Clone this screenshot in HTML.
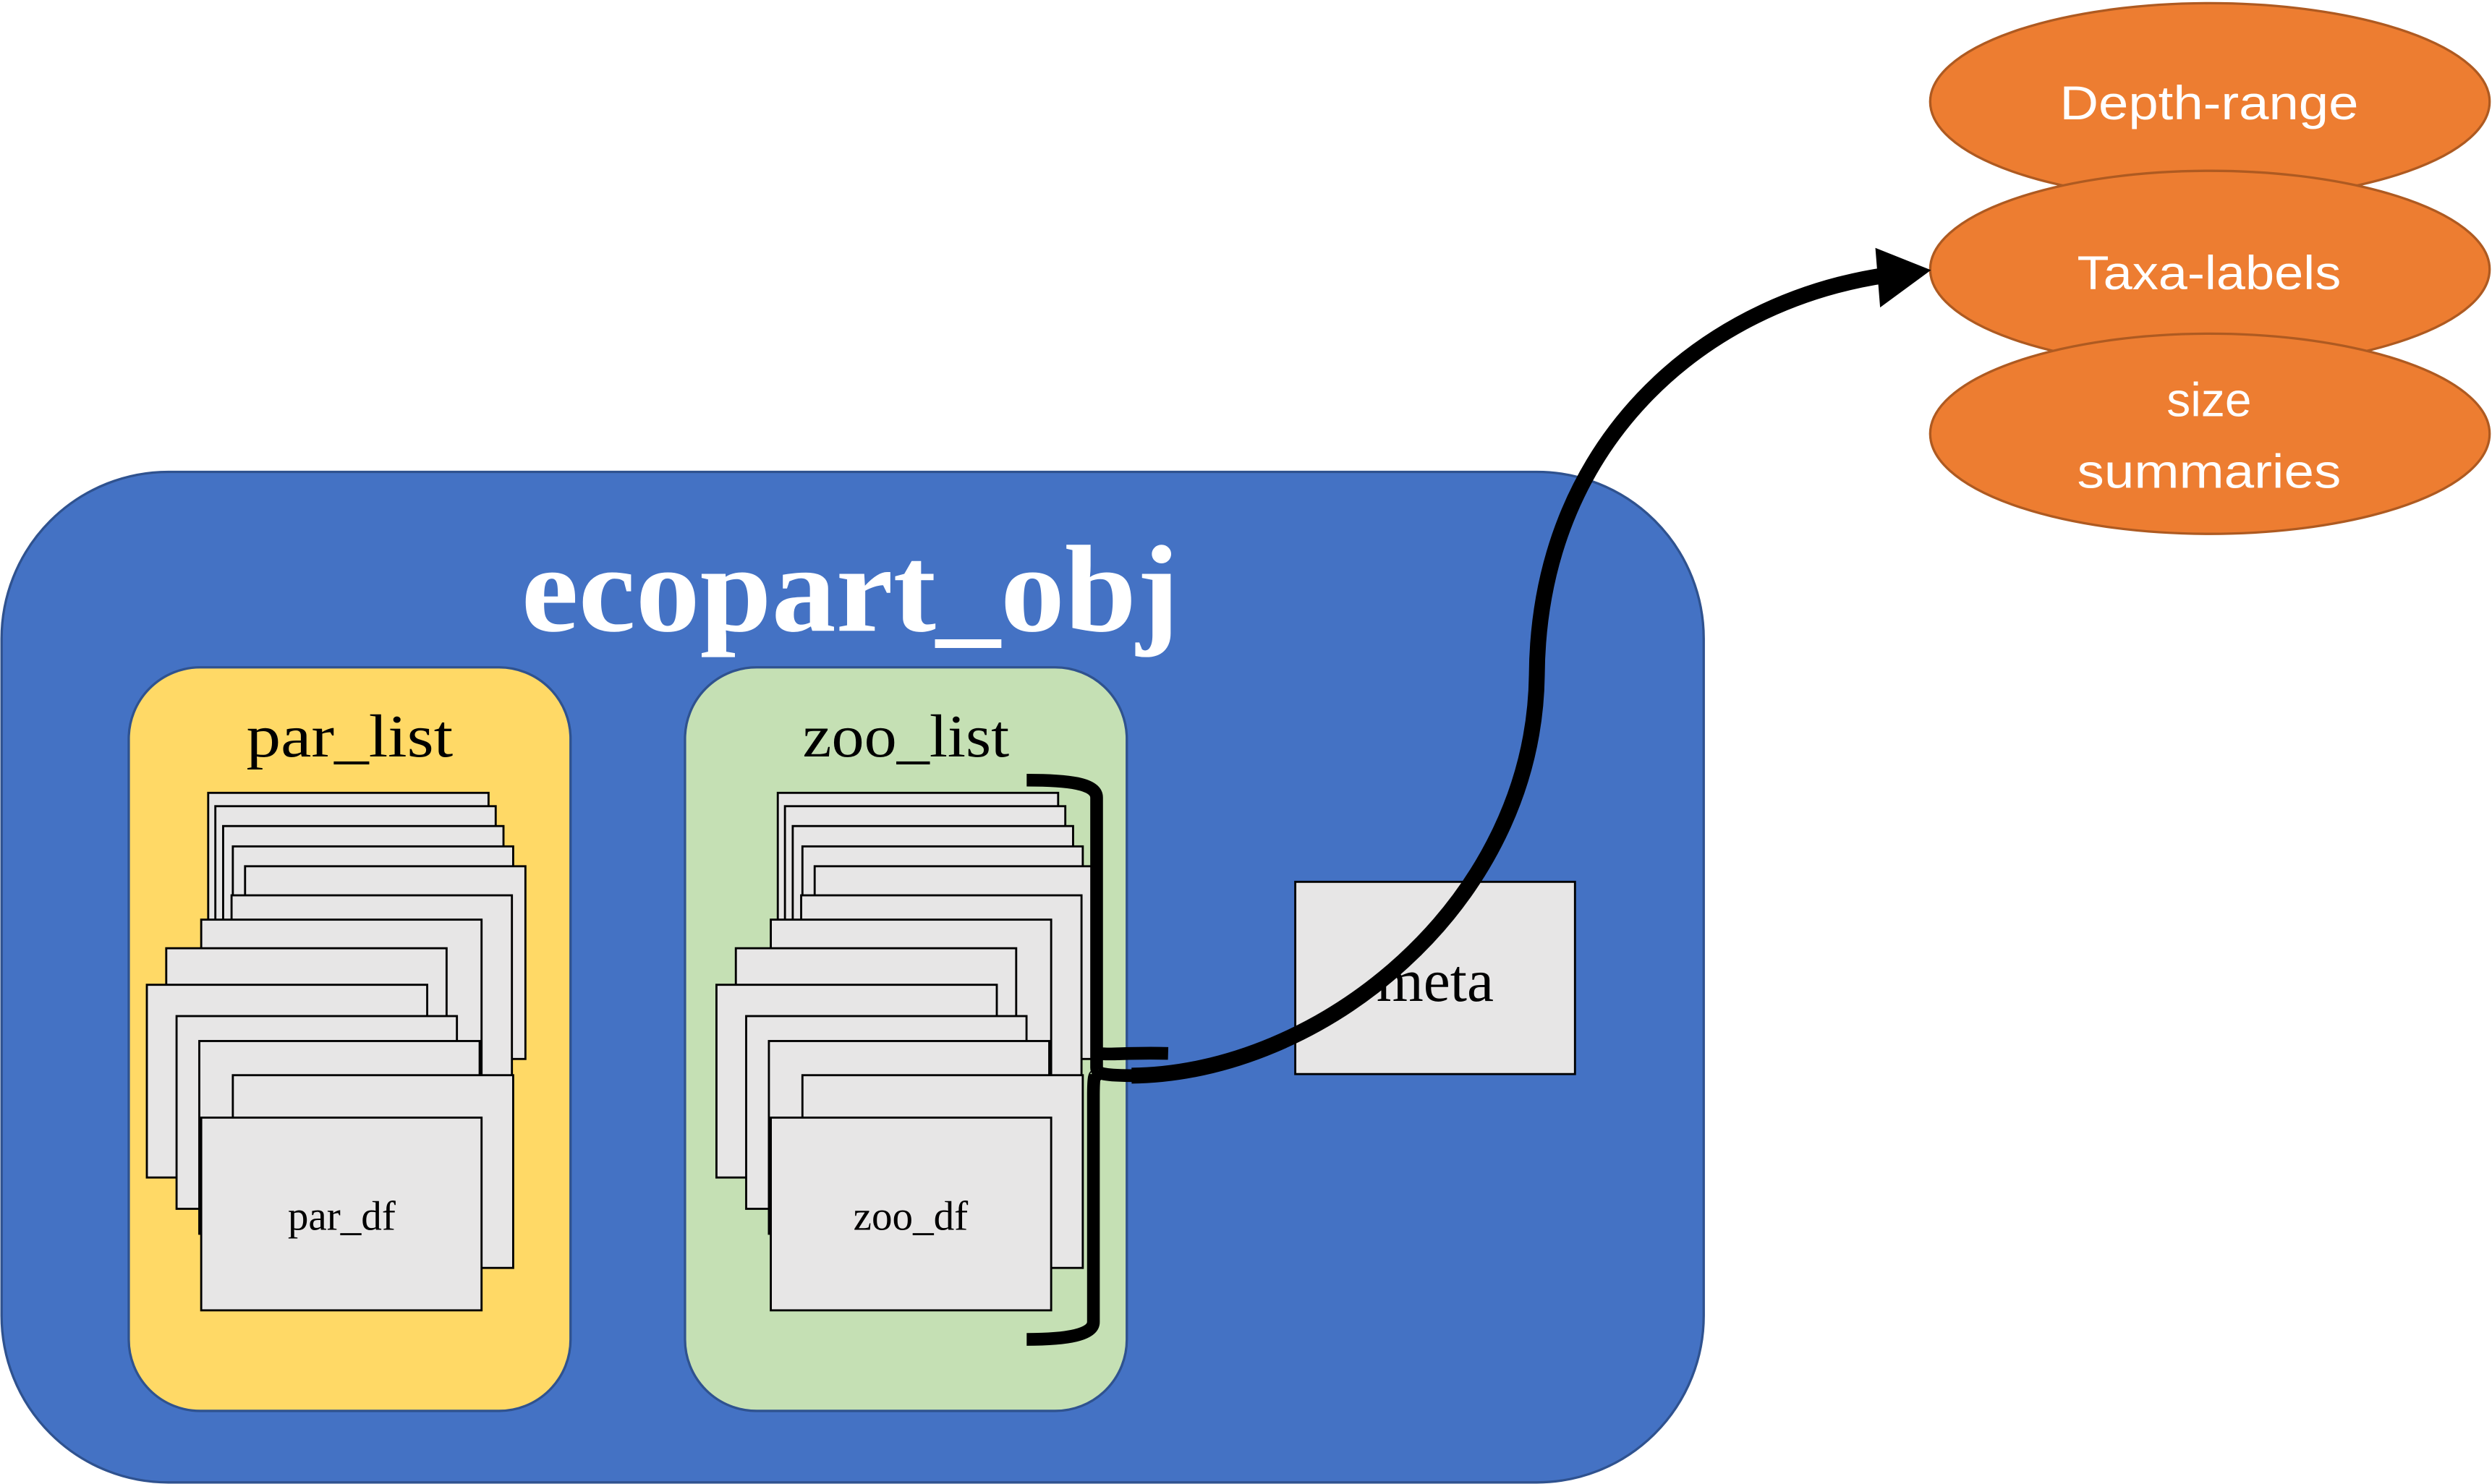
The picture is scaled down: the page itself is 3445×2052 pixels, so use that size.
<!DOCTYPE html>
<html><head><meta charset="utf-8"><style>html,body{margin:0;padding:0;background:#fff}svg{display:block}</style></head>
<body>
<svg width="3445" height="2052" viewBox="0 0 1568 934" preserveAspectRatio="none" xmlns="http://www.w3.org/2000/svg">
<rect x="0" y="0" width="1568" height="934" fill="#fff"/>
<!-- ellipses -->
<g fill="#ed7d31" stroke="#ae5a21" stroke-width="1.5" font-family="Liberation Sans, sans-serif" font-size="30" fill-opacity="1">
<ellipse cx="1390.5" cy="64" rx="176" ry="62"/>
<ellipse cx="1390.5" cy="169.5" rx="176" ry="62"/>
<ellipse cx="1390.5" cy="273" rx="176" ry="63"/>
</g>
<g fill="#fff" font-family="Liberation Sans, sans-serif" font-size="30" text-anchor="middle">
<text x="1390" y="75" textLength="188" lengthAdjust="spacingAndGlyphs">Depth-range</text>
<text x="1390" y="182" textLength="166" lengthAdjust="spacingAndGlyphs">Taxa-labels</text>
<text x="1390" y="262">size</text>
<text x="1390" y="307" textLength="166" lengthAdjust="spacingAndGlyphs">summaries</text>
</g>
<!-- main container -->
<rect x="1" y="297" width="1071" height="636" rx="105" ry="105" fill="#4472c4" stroke="#2f528f" stroke-width="1.5"/>
<text x="535" y="397" fill="#fff" font-family="Liberation Serif, serif" font-weight="bold" font-size="78" text-anchor="middle" textLength="414" lengthAdjust="spacingAndGlyphs">ecopart_obj</text>
<rect x="81" y="420" width="278" height="468" rx="45" ry="45" fill="#ffd966" stroke="#2f528f" stroke-width="1.5"/>
<rect x="431" y="420" width="278" height="468" rx="45" ry="45" fill="#c5e0b4" stroke="#2f528f" stroke-width="1.5"/>
<g font-family="Liberation Serif, serif" font-size="38" text-anchor="middle" fill="#000">
<text x="220" y="476" textLength="130" lengthAdjust="spacingAndGlyphs">par_list</text>
<text x="570" y="476" textLength="130" lengthAdjust="spacingAndGlyphs">zoo_list</text>
</g>
<g id="stack" fill="#e7e6e6" stroke="#000" stroke-width="1.3">
<rect x="131" y="499" width="176.4" height="121.3"/>
<rect x="135.5" y="507.4" width="176.4" height="121.3"/>
<rect x="140.4" y="519.9" width="176.4" height="121.3"/>
<rect x="146.5" y="532.7" width="176.4" height="121.3"/>
<rect x="154.2" y="545.2" width="176.4" height="121.3"/>
<rect x="145.7" y="563.5" width="176.4" height="121.3"/>
<rect x="126.6" y="578.8" width="176.4" height="121.3"/>
<rect x="104.6" y="596.8" width="176.4" height="121.3"/>
<rect x="92.4" y="619.8" width="176.4" height="121.3"/>
<rect x="111.1" y="639.5" width="176.4" height="121.3"/>
<rect x="125.4" y="655.2" width="176.4" height="121.3"/>
<rect x="146.5" y="676.7" width="176.4" height="121.3"/>
<rect x="126.6" y="703.4" width="176.4" height="121.3"/>
</g>
<use href="#stack" transform="translate(358.4,0)"/>
<g font-family="Liberation Serif, serif" font-size="26" text-anchor="middle" fill="#000">
<text x="215" y="774">par_df</text>
<text x="573" y="774">zoo_df</text>
</g>
<!-- meta -->
<rect x="815" y="555" width="176" height="121" fill="#e7e6e6" stroke="#000" stroke-width="1.3"/>
<text x="903" y="630" font-family="Liberation Serif, serif" font-size="38" text-anchor="middle" fill="#000">meta</text>
<!-- bracket -->
<path d="M646 491 C672 491 690 493 690 502 L690 660 C690 666 700 662 735 663 M690 660 L690 672 C690 676 695 677 715 677 M690 676 C690 680 688 670 688 690 L688 832 C688 840 672 843 646 843" fill="none" stroke="#000" stroke-width="8"/>
<!-- curve arrow -->
<path d="M712 677 C830 676 965 570 967 425 C968 280 1070 190 1188 173" fill="none" stroke="#000" stroke-width="10"/>
<polygon points="1180,156 1215,170 1183,193.5" fill="#000"/>
</svg>
</body></html>
